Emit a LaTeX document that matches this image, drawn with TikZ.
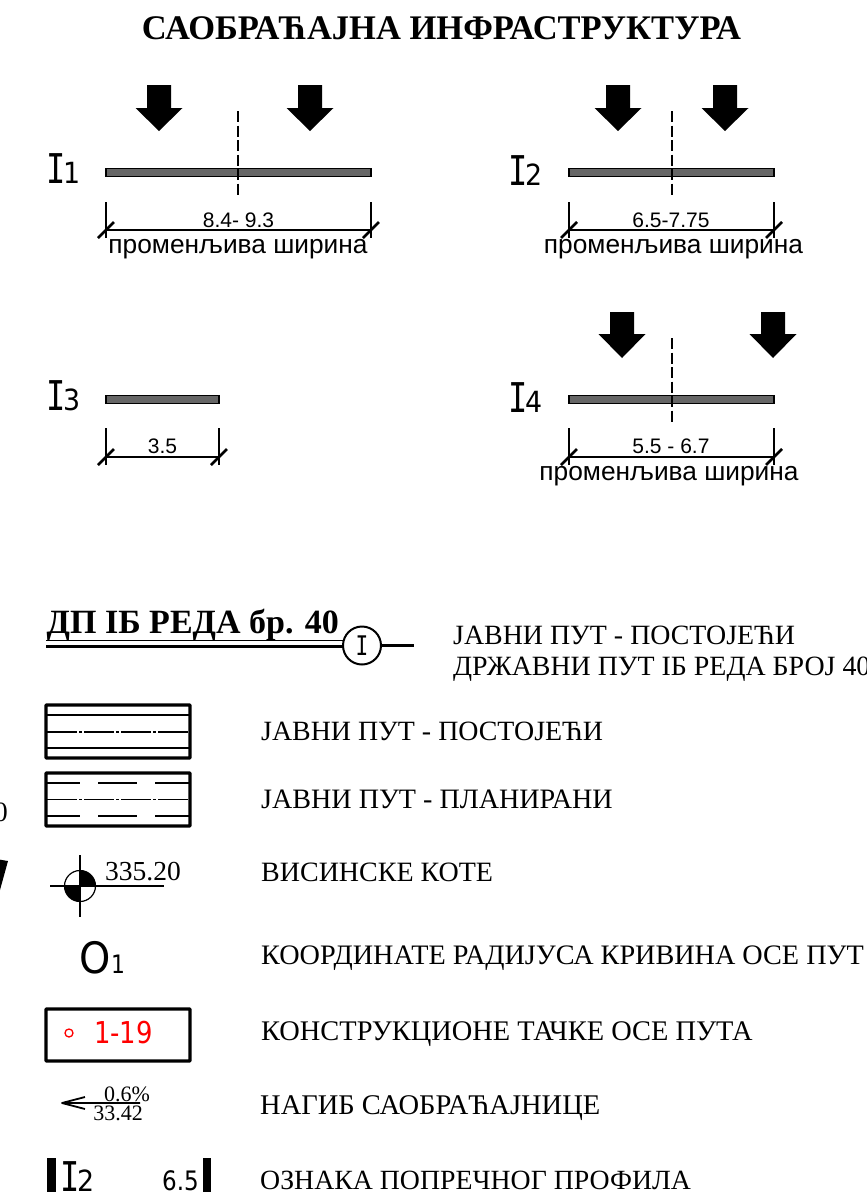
\documentclass[tikz,border=0pt]{standalone}
\usepackage{fontspec}
\setmainfont{Liberation Serif}
\newfontfamily\arialf{Liberation Sans}
\newfontfamily\tahf{DejaVu Sans}[Scale=0.94,FakeStretch=0.92]
\newfontfamily\tahg{DejaVu Sans}[Scale=0.94,FakeStretch=0.86]
\newfontfamily\monof{DejaVu Sans Mono}[FakeStretch=0.78]
\newcommand{\fs}[1]{\fontsize{#1}{#1}\selectfont}
\newcommand{\profI}[1]{{\monof\fs{41}I}\kern-2pt{\tahf\fs{31}#1}}
\tikzset{
  x=1pt,y=-1pt,
  lbl/.style={anchor=base west,inner sep=0pt,font=\fs{27.9}},
  proflabel/.style={anchor=base west,inner sep=0pt},
  dimtext/.style={anchor=base,inner sep=0pt,font=\arialf\fs{21}},
  vartext/.style={anchor=base,inner sep=0pt,font=\arialf\fs{26.3}},
  roadbar/.style={fill=black!60,draw=black,line width=1.3pt},
  axisline/.style={line width=1.1pt,dash pattern=on 11pt off 3.5pt},
  dimline/.style={line width=1.3pt},
  dimtick/.style={line width=2.5pt},
  downarrow/.style={fill=black,draw=none},
  framebox/.style={draw=black,line width=3.2pt,rounded corners=0.6pt},
  centre/.style={line width=1.2pt,dash pattern=on 30pt off 2pt on 3pt off 2pt},
  thickin/.style={line width=2.4pt},
  dashin/.style={line width=2.4pt},
}
\newcommand{\darrow}[4]{% cx, top, neck, tip
  \fill[downarrow] (#1-12,#2) -- (#1+12,#2) -- (#1+12,#3) -- (#1+23.5,#3) -- (#1,#4) -- (#1-23.5,#3) -- (#1-12,#3) -- cycle;}
\newcommand{\dims}[4]{% xl, xr, ytop, ydim
  \draw[dimline] (#1,#3) -- (#1,#4+8) (#2,#3) -- (#2,#4+8) (#1,#4) -- (#2,#4);
  \draw[dimtick] (#1-8,#4+8) -- (#1+8,#4-8) (#2-8,#4+8) -- (#2+8,#4-8);}
\begin{document}
\begin{tikzpicture}
\useasboundingbox (0,0) rectangle (867,1192);
\clip (0,0) rectangle (867,1192);
\fill[white] (0,0) rectangle (867,1192);

\node[anchor=base,inner sep=0pt,font=\bfseries\fs{34.5}] (title) at (441.5,39) {САОБРАЋАЈНА ИНФРАСТРУКТУРА};

% I1
\darrow{159}{85}{108}{131}
\darrow{310}{85}{108}{131}
\draw[roadbar] (106,168.5) rectangle (371,176.5);
\draw[axisline] (238,111) -- (238,197);
\dims{106}{371}{202}{230}
\node[proflabel] (p1) at (46,183) {\profI{1}};
\node[dimtext] (d1) at (238.5,227) {8.4- 9.3};
\node[vartext] (v1) at (238,253) {променљива ширина};

% I2
\darrow{618}{85}{108}{131}
\darrow{725}{85}{108}{131}
\draw[roadbar] (569,168.5) rectangle (774,176.5);
\draw[axisline] (672,111) -- (672,197);
\dims{569}{774}{202}{230}
\node[proflabel] (p2) at (508,185) {\profI{2}};
\node[dimtext] (d2) at (671,227) {6.5-7.75};
\node[vartext] (v2) at (673.5,253) {променљива ширина};

% I3
\draw[roadbar] (106,395.5) rectangle (219,403.5);
\dims{106}{219}{428}{457}
\node[proflabel] (p3) at (46,410) {\profI{3}};
\node[dimtext] (d3) at (162.5,453) {3.5};

% I4
\darrow{622}{312}{334}{358}
\darrow{773}{312}{334}{358}
\draw[roadbar] (569,395.5) rectangle (774,403.5);
\draw[axisline] (672,338) -- (672,423);
\dims{569}{774}{428}{457}
\node[proflabel] (p4) at (508,412) {\profI{4}};
\node[dimtext] (d4) at (671,453) {5.5 - 6.7};
\node[vartext] (v4) at (669,480) {променљива ширина};

% state road
\node[anchor=base west,inner sep=0pt,font=\bfseries\fs{34}] (dp) at (46.5,633) {ДП ІБ РЕДА бр. 40};
\draw[line width=1.4pt] (46,640.5) -- (343,640.5);
\draw[line width=3pt] (46,646) -- (343,646);
\node[circle,draw=black,fill=white,line width=2pt,minimum size=38pt,inner sep=0pt,font=\monof\fs{27}] (circI) at (362,645.5) {I};
\coordinate (roadend) at (414,645.5);
\draw[line width=2.8pt] (circI.east) -- (roadend);
\node[lbl] (t0a) at (453,644) {ЈАВНИ ПУТ - ПОСТОЈЕЋИ};
\node[lbl] (t0b) at (453,675) {ДРЖАВНИ ПУТ ІБ РЕДА БРОЈ 40};

% box 1
\draw[framebox] (46,705) rectangle (190,758);
\draw[thickin] (47,715) -- (189,715) (47,748) -- (189,748);
\draw[centre] (47,732) -- (189,732);
\node[lbl] (t1) at (261,740) {ЈАВНИ ПУТ - ПОСТОЈЕЋИ};

% box 2
\draw[framebox] (46,773) rectangle (190,826);
\foreach \yy in {783,816}
  \draw[dashin] (47,\yy) -- (80,\yy) (98,\yy) -- (137,\yy) (155,\yy) -- (189,\yy);
\draw[centre] (47,799.5) -- (189,799.5);
\node[lbl,font=\fs{28.1}] (t2) at (261,808) {ЈАВНИ ПУТ - ПЛАНИРАНИ};

% cropped remnants at the left edge
\node[anchor=base east,inner sep=0pt,font=\fs{27.9}] (cut0) at (8,821) {0};
\fill (-4,859) -- (8,861) -- (0,890) -- (-4,890) -- cycle;

% spot height
\begin{scope}
  \clip (80,870) rectangle (96,886);
  \fill (80,886) circle[radius=15.5];
\end{scope}
\begin{scope}
  \clip (64,886) rectangle (80,902);
  \fill (80,886) circle[radius=15.5];
\end{scope}
\draw[line width=1.2pt] (80,886) circle[radius=15.5];
\draw[line width=1.2pt] (80,855) -- (80,917) (50,886) -- (164,886);
\node[anchor=base west,inner sep=0pt,font=\fs{27.5}] (h) at (105,880) {335.20};
\node[lbl,font=\fs{28}] (t3) at (261,881) {ВИСИНСКЕ КОТЕ};

% O1
\node[proflabel] (o1) at (79,973) {{\tahf\fs{46}O}\kern0.5pt{\tahg\fs{27}1}};
\node[lbl,font=\fs{28.2}] (t4) at (261,964) {КООРДИНАТЕ РАДИЈУСА КРИВИНА ОСЕ ПУТ};

% box 3
\draw[framebox] (46,1009) rectangle (190,1061);
\draw[red,line width=1.3pt] (69,1033) circle[radius=4];
\node[anchor=base west,inner sep=0pt,text=red,font=\tahg\fs{32}] (r) at (94,1043) {1-19};
\node[lbl,font=\fs{28.4}] (t5) at (261,1040) {КОНСТРУКЦИОНЕ ТАЧКЕ ОСЕ ПУТА};

% slope
\coordinate (sa) at (62,1103);
\coordinate (sb) at (140,1103);
\draw[line width=1.8pt,line join=round] (sb) -- (sa) -- (85,1097) (sa) -- (85,1109);
\node[anchor=base,inner sep=0pt,font=\fs{22}] (s1) at (127,1101) {0.6\%};
\node[anchor=base,inner sep=0pt,font=\fs{22}] (s2) at (118,1120) {33.42};
\node[lbl,font=\fs{28.5}] (t6) at (260,1114) {НАГИБ САОБРАЋАЈНИЦЕ};

% profile mark
\fill (47,1158) rectangle (56,1192);
\fill (203,1158) rectangle (211,1192);
\node[proflabel] (m1) at (60,1191) {\profI{2}};
\node[anchor=base east,inner sep=0pt,font=\tahg\fs{28.5}] (m2) at (199,1190) {6.5};
\node[lbl,font=\fs{27.8}] (t7) at (260,1189) {ОЗНАКА ПОПРЕЧНОГ ПРОФИЛА};
\end{tikzpicture}
\end{document}
